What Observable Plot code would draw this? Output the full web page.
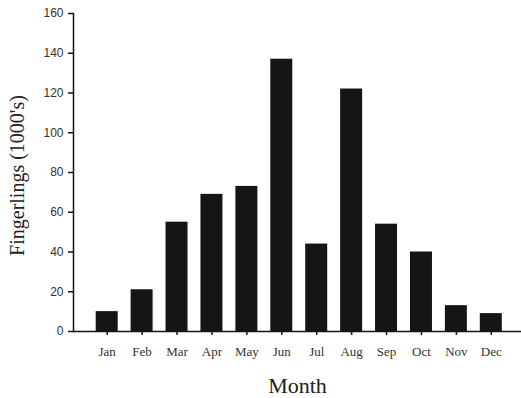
<!DOCTYPE html>
<html>
<head>
<meta charset="utf-8">
<script src="https://cdn.jsdelivr.net/npm/d3@7"></script>
<script src="https://cdn.jsdelivr.net/npm/@observablehq/plot@0.6"></script>
<style>
  html, body { margin: 0; padding: 0; background: #ffffff; }
  #chart svg { display: block; }
</style>
</head>
<body>
<div id="chart"></div>
<script>
const months = ["Jan", "Feb", "Mar", "Apr", "May", "Jun", "Jul", "Aug", "Sep", "Oct", "Nov", "Dec"];
const fingerlings = [10, 21, 55, 69, 73, 137, 44, 122, 54, 40, 13, 9];
const yTicks = [0, 20, 40, 60, 80, 100, 120, 140, 160];
const xTitle = "Month";
const yTitle = "Fingerlings (1000's)";

const data = months.map((m, i) => ({month: m, value: fingerlings[i]}));
const ink = "#151515";

const chart = Plot.plot({
  width: 521,
  height: 398,
  marginLeft: 73,
  marginRight: 0,
  marginTop: 13,
  marginBottom: 67,
  style: {background: "#ffffff", color: ink},
  x: {domain: months, range: [95.7, 501.8], round: false, paddingInner: 0.37, paddingOuter: 0, label: null},
  y: {domain: [0, 160], label: null},
  marks: [
    Plot.barY(data, {x: "month", y: "value", fill: ink}),
    Plot.frame({anchor: "left", stroke: ink, strokeWidth: 1.5}),
    Plot.frame({anchor: "bottom", stroke: ink, strokeWidth: 1.5}),
    Plot.axisY({ticks: yTicks, tickSize: 5, tickPadding: 5, fontSize: 12,
      fontFamily: "Liberation Sans, Arial, sans-serif", label: null, stroke: ink, strokeWidth: 1.5, fill: "#333"}),
    Plot.axisX({tickSize: 4, tickPadding: 11, fontSize: 13,
      fontFamily: "Liberation Serif, Times New Roman, serif", label: null, stroke: ink, strokeWidth: 1.5, fill: "#333"}),
    Plot.text([xTitle], {frameAnchor: "bottom", dy: 54, fontSize: 22,
      fontFamily: "Liberation Serif, Times New Roman, serif", fill: "#222", textAnchor: "middle", lineAnchor: "middle"}),
    Plot.text([yTitle], {frameAnchor: "left", dx: -56, dy: 3, rotate: -90, fontSize: 20,
      fontFamily: "Liberation Serif, Times New Roman, serif", fill: "#222", textAnchor: "middle", lineAnchor: "middle"})
  ]
});
document.getElementById("chart").appendChild(chart);
</script>
</body>
</html>
